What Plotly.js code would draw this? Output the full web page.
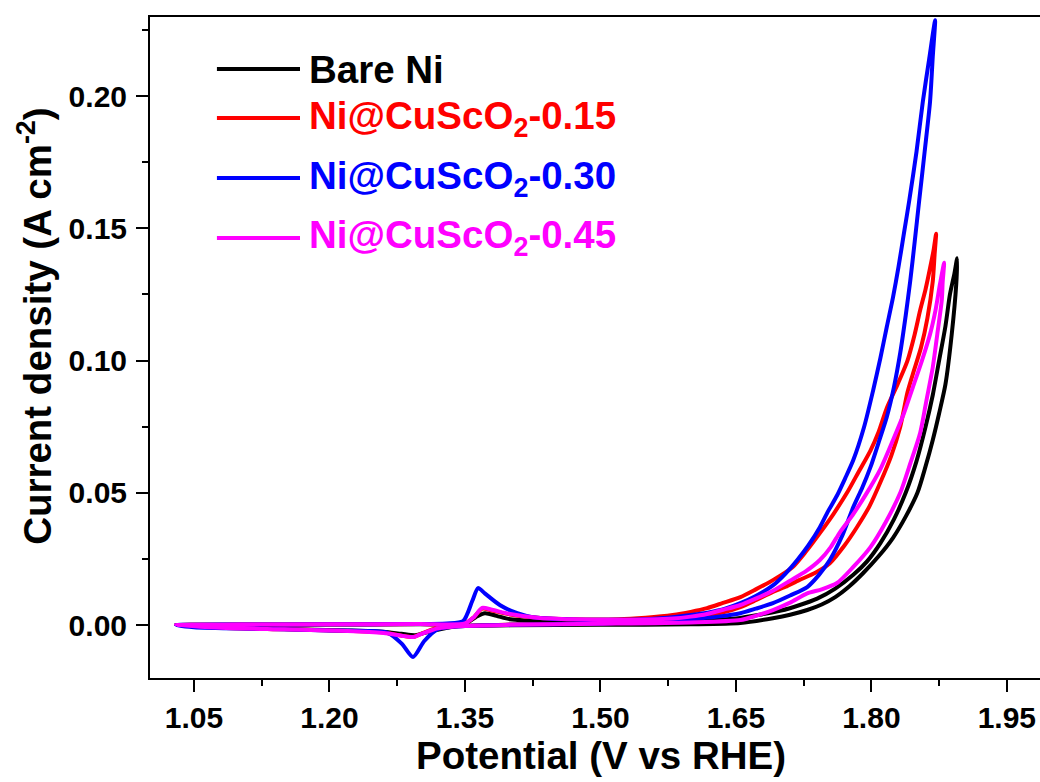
<!DOCTYPE html>
<html>
<head>
<meta charset="utf-8">
<script src="https://cdn.plot.ly/plotly-3.0.1.min.js"></script>
<style>
html,body{margin:0;padding:0;overflow:hidden;background:#fff;}
#chart{width:1052px;height:782px;}
</style>
</head>
<body>
<div id="chart"></div>
<script>
// Potential (V vs RHE) and current density (A cm^-2), CV loops
const bareNiV = [1.03,1.10,1.20,1.30,1.35,1.362,1.372,1.385,1.40,1.45,1.50,1.55,1.60,1.65,1.70,1.72,1.74,1.76,1.78,1.795,1.81,1.825,1.838,1.85,1.86,1.868,1.875,1.882,1.887,1.892,1.895,
                 1.894,1.889,1.882,1.875,1.868,1.86,1.851,1.838,1.824,1.808,1.791,1.776,1.76,1.745,1.729,1.71,1.691,1.655,1.60,1.50,1.40,1.34,1.31,1.295,1.28,1.26,1.22,1.15,1.08,1.03];
const bareNiJ = [0,0.0001,0.0002,0.0003,0.0005,0.003,0.0045,0.0035,0.0022,0.0012,0.0008,0.001,0.0015,0.0025,0.0055,0.0075,0.010,0.0138,0.019,0.024,0.031,0.040,0.050,0.062,0.075,0.087,0.100,0.113,0.125,0.133,0.1387,
                 0.129,0.110,0.091,0.080,0.070,0.060,0.050,0.041,0.033,0.026,0.0197,0.0148,0.0106,0.0078,0.0057,0.0039,0.0026,0.0008,0.0003,0.0001,-0.0001,-0.0005,-0.0025,-0.0038,-0.0033,-0.0025,-0.002,-0.0015,-0.0009,0];

const cu015V = [1.03,1.10,1.20,1.30,1.35,1.36,1.369,1.38,1.40,1.43,1.47,1.52,1.55,1.58,1.60,1.618,1.635,1.655,1.672,1.691,1.713,1.728,1.743,1.758,1.773,1.786,1.799,1.808,1.817,1.829,1.840,1.848,1.854,1.860,1.865,1.869,1.8717,
                1.870,1.868,1.862,1.855,1.846,1.840,1.832,1.822,1.810,1.798,1.784,1.770,1.754,1.738,1.72,1.705,1.691,1.672,1.655,1.636,1.618,1.58,1.55,1.50,1.45,1.40,1.35,1.32,1.30,1.293,1.28,1.26,1.22,1.15,1.08,1.03];
const cu015J = [0,0.0002,0.0003,0.0004,0.0006,0.003,0.0062,0.0055,0.004,0.0028,0.0022,0.0022,0.0028,0.0038,0.005,0.0064,0.0083,0.0106,0.0135,0.017,0.022,0.028,0.0348,0.042,0.050,0.058,0.066,0.073,0.082,0.091,0.100,0.110,0.119,0.127,0.135,0.142,0.148,
                0.140,0.130,0.116,0.105,0.095,0.088,0.075,0.064,0.054,0.045,0.037,0.030,0.0234,0.0198,0.017,0.0145,0.0125,0.0094,0.0068,0.0048,0.0035,0.002,0.0015,0.0008,0.0004,0.0002,-0.0002,-0.001,-0.0035,-0.0045,-0.004,-0.0028,-0.0022,-0.0016,-0.001,0];

const cu030V = [1.03,1.10,1.20,1.28,1.33,1.348,1.358,1.3645,1.372,1.389,1.408,1.425,1.46,1.50,1.55,1.58,1.60,1.62,1.638,1.655,1.672,1.691,1.705,1.718,1.73,1.743,1.752,1.762,1.771,1.78,1.792,1.802,1.81,1.817,1.824,1.83,1.836,1.842,1.85,1.857,1.864,1.8706,
                1.868,1.865,1.859,1.853,1.848,1.843,1.838,1.832,1.825,1.817,1.808,1.799,1.79,1.78,1.768,1.754,1.742,1.729,1.71,1.691,1.672,1.655,1.63,1.60,1.55,1.50,1.45,1.40,1.35,1.32,1.305,1.2925,1.28,1.265,1.24,1.20,1.12,1.05,1.03];
const cu030J = [0,0.0002,0.0003,0.0004,0.0006,0.0015,0.009,0.014,0.012,0.0075,0.0045,0.003,0.0022,0.002,0.0022,0.003,0.0038,0.0048,0.0062,0.0083,0.011,0.015,0.0195,0.0246,0.030,0.037,0.043,0.049,0.0555,0.0624,0.075,0.0888,0.101,0.1126,0.124,0.1353,0.148,0.1606,0.179,0.198,0.214,0.2287,
                0.215,0.198,0.179,0.1606,0.145,0.130,0.117,0.103,0.090,0.0786,0.069,0.0597,0.052,0.0446,0.034,0.0246,0.019,0.0144,0.0112,0.0083,0.0062,0.0045,0.0032,0.0022,0.0012,0.0006,0.0003,0.0001,-0.0003,-0.0015,-0.006,-0.0121,-0.007,-0.003,-0.0022,-0.002,-0.0014,-0.0008,0];

const cu045V = [1.03,1.10,1.20,1.30,1.35,1.36,1.369,1.38,1.40,1.43,1.47,1.52,1.58,1.60,1.618,1.636,1.655,1.672,1.691,1.71,1.728,1.743,1.755,1.765,1.78,1.795,1.81,1.824,1.836,1.846,1.856,1.865,1.871,1.876,1.8806,
                1.879,1.878,1.873,1.868,1.861,1.854,1.843,1.832,1.816,1.799,1.78,1.762,1.745,1.729,1.71,1.691,1.672,1.655,1.60,1.50,1.45,1.40,1.35,1.32,1.30,1.293,1.28,1.26,1.22,1.15,1.08,1.03];
const cu045J = [0,0.0002,0.0003,0.0004,0.0006,0.003,0.0065,0.0058,0.0042,0.0028,0.0022,0.002,0.0025,0.0032,0.0042,0.0058,0.0076,0.010,0.013,0.0168,0.0205,0.0246,0.0295,0.035,0.042,0.050,0.059,0.070,0.080,0.090,0.100,0.110,0.119,0.129,0.137,
                0.130,0.123,0.110,0.0975,0.085,0.0726,0.061,0.050,0.039,0.0295,0.022,0.0159,0.0135,0.012,0.0085,0.0057,0.0035,0.0019,0.001,0.0005,0.0003,0.0001,-0.0003,-0.0012,-0.0036,-0.0045,-0.004,-0.003,-0.0022,-0.0016,-0.001,0];

const seriesNames = ['Bare Ni','Ni@CuScO<sub>2</sub>-0.15','Ni@CuScO<sub>2</sub>-0.30','Ni@CuScO<sub>2</sub>-0.45'];
const seriesColors = ['#000000','#ff0000','#0000ff','#ff00ff'];
const xTickVals = [1.05,1.20,1.35,1.50,1.65,1.80,1.95];
const xTickText = ['1.05','1.20','1.35','1.50','1.65','1.80','1.95'];
const yTickVals = [0.00,0.05,0.10,0.15,0.20];
const yTickText = ['0.00','0.05','0.10','0.15','0.20'];

const xs = [bareNiV, cu015V, cu030V, cu045V];
const ys = [bareNiJ, cu015J, cu030J, cu045J];
const FONT = 'Liberation Sans, Arial, sans-serif';
// draw order: black, red, blue, magenta (magenta on top)
const traces = [0,1,2,3].map(i => ({
  x: xs[i], y: ys[i], type:'scatter', mode:'lines', name: seriesNames[i],
  line:{color: seriesColors[i], width:4, shape:'spline', smoothing:0.7},
  showlegend:false, hoverinfo:'skip'
}));

// manual legend (long line samples like the original)
const legendRowsY = [0.9213,0.8472,0.7564,0.6657];
const shapes = [], annotations = [];
legendRowsY.forEach((yy,i) => {
  shapes.push({type:'line', xref:'paper', yref:'paper', x0:0.0742, x1:0.1663, y0:yy, y1:yy,
    line:{color:seriesColors[i], width:4}});
  annotations.push({xref:'paper', yref:'paper', x:0.1745, y:yy, xanchor:'left', yanchor:'middle',
    text:'<span style="color:'+seriesColors[i]+'">'+seriesNames[i]+'</span>', showarrow:false,
    font:{family:FONT, size:38.5, color:seriesColors[i], weight:'bold'}});
});

const layout = {
  width:1052, height:782,
  margin:{l:150, r:0, t:17, b:104},
  paper_bgcolor:'#ffffff', plot_bgcolor:'#ffffff',
  font:{family:FONT, color:'#000', weight:'bold'},
  xaxis:{
    range:[1.0013, 2.0], tickvals:xTickVals, ticktext:xTickText,
    ticks:'outside', ticklen:12, tickwidth:2, tickcolor:'#000',
    minor:{ticks:'outside', ticklen:6, tickwidth:2, tickcolor:'#000', dtick:0.075, tick0:1.05, showgrid:false},
    showline:true, linewidth:2, linecolor:'#000', mirror:true,
    showgrid:false, zeroline:false,
    tickfont:{size:30, family:FONT, weight:'bold'},
    title:{text:'Potential (V vs RHE)', font:{size:38.5, family:FONT, weight:'bold'}, standoff:9}
  },
  yaxis:{
    range:[-0.0200, 0.2299], tickvals:yTickVals, ticktext:yTickText,
    ticks:'outside', ticklen:12, tickwidth:2, tickcolor:'#000',
    minor:{ticks:'outside', ticklen:6, tickwidth:2, tickcolor:'#000', dtick:0.025, tick0:0, showgrid:false},
    showline:true, linewidth:2, linecolor:'#000', mirror:false,
    showgrid:false, zeroline:false,
    tickfont:{size:30, family:FONT, weight:'bold'},
    ticklabelstandoff:3,
    title:{text:'&nbsp;&nbsp;&nbsp;&nbsp;Current density (A cm<sup>-2</sup>)', font:{size:38.5, family:FONT, weight:'bold'}, standoff:5}
  },
  shapes:shapes, annotations:annotations, showlegend:false
};

Plotly.newPlot('chart', traces, layout, {displayModeBar:false, staticPlot:true});
</script>
</body>
</html>
